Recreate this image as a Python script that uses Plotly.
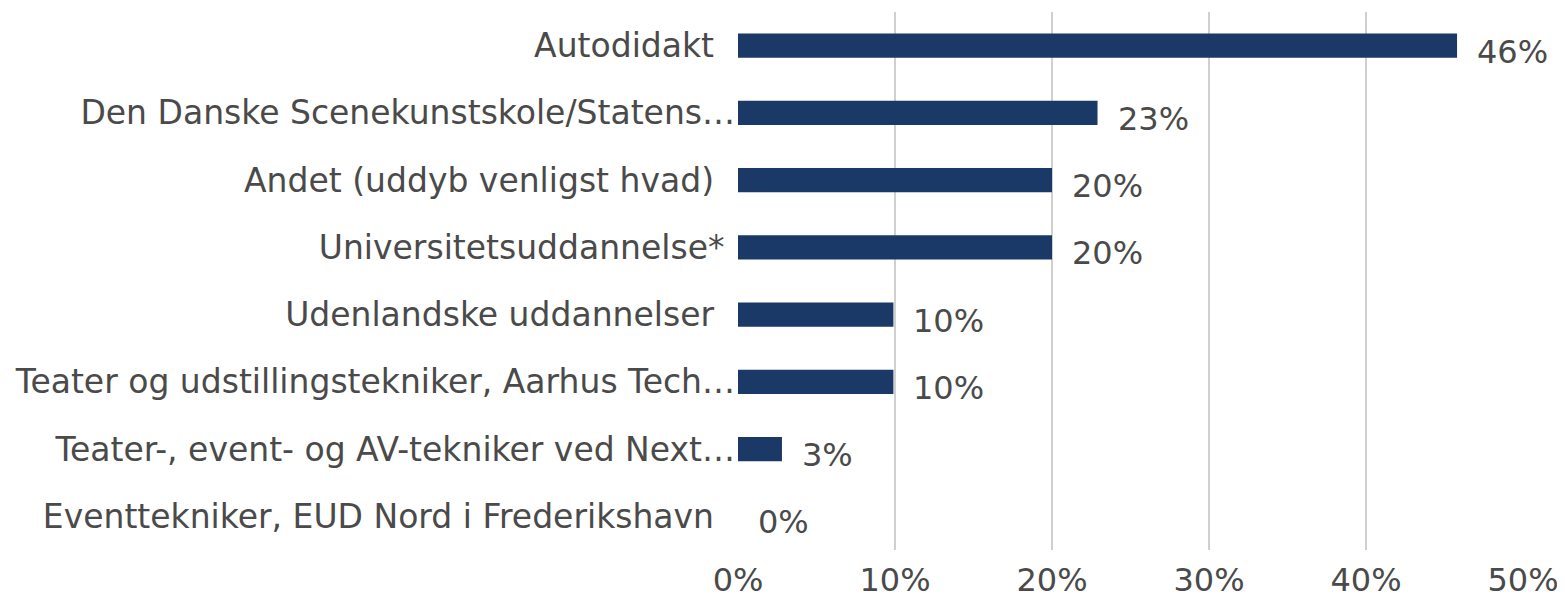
import plotly.graph_objects as go

NB = "\u00a0"
categories = [
    "Autodidakt" + NB * 2,
    "Den Danske Scenekunstskole/Statens…",
    "Andet (uddyb venligst hvad)" + NB * 2,
    "Universitetsuddannelse*" + NB,
    "Udenlandske uddannelser" + NB * 2,
    "Teater og udstillingstekniker, Aarhus Tech…",
    "Teater-, event- og AV-tekniker ved Next…",
    "Eventtekniker, EUD Nord i Frederikshavn" + NB * 2,
]
values = [0.458, 0.229, 0.200, 0.200, 0.099, 0.099, 0.028, 0.0]
tick_vals = [0, 0.1, 0.2, 0.3, 0.4, 0.5]
tick_text = ["0%", "10%", "20%", "30%", "40%", "50%"]

FONT = "DejaVu Sans"
SIZE = 33
TXT = "#4a4a4a"

fig = go.Figure(
    go.Bar(
        x=values,
        y=categories,
        orientation="h",
        marker=dict(color="#1b3966", line=dict(width=0)),
        hoverinfo="skip",
    )
)

for c, v in zip(categories, values):
    fig.add_annotation(
        x=v, y=c, xref="x", yref="y",
        text=f"{v:.0%}", showarrow=False,
        xanchor="left", yanchor="middle",
        xshift=18, yshift=-6,
        font=dict(family=FONT, size=SIZE - 1, color=TXT),
    )

fig.update_layout(
    width=1557,
    height=591,
    margin=dict(l=730, r=42, t=4, b=49, autoexpand=False),
    paper_bgcolor="white",
    plot_bgcolor="white",
    bargap=0.64,
    showlegend=False,
    font=dict(family=FONT, size=SIZE, color=TXT),
)
fig.update_xaxes(
    range=[0, 0.5],
    tickvals=tick_vals,
    ticktext=tick_text,
    showgrid=True,
    gridcolor="#d0d0d0",
    gridwidth=2,
    zeroline=False,
    showline=False,
    ticks="",
    automargin=False,
    ticklabelstandoff=8,
    tickfont=dict(family=FONT, size=SIZE - 1, color=TXT),
)
fig.update_yaxes(
    autorange="reversed",
    showgrid=False,
    showline=False,
    ticks="",
    automargin=False,
    ticklabelstandoff=2,
    tickfont=dict(family=FONT, size=SIZE, color=TXT),
)

fig.write_html("out.html")
